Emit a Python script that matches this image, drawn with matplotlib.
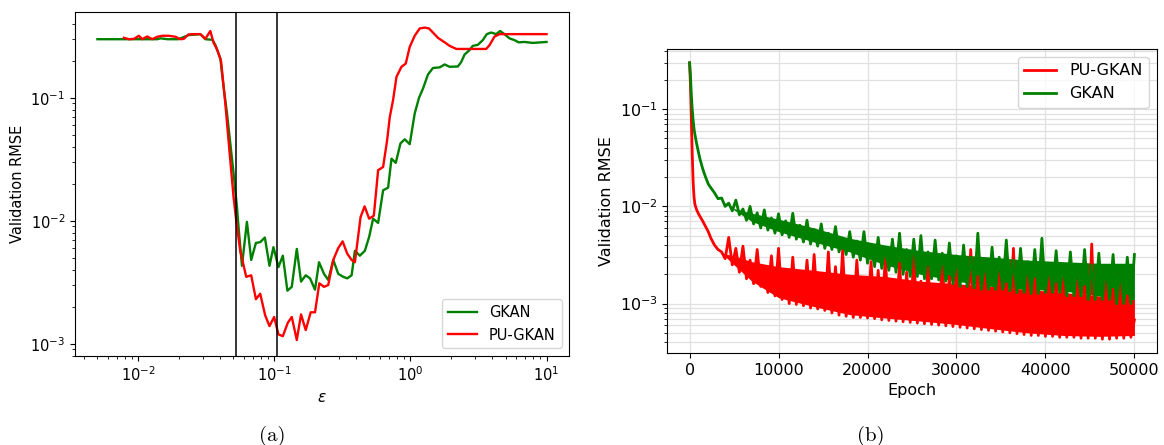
import numpy as np
import matplotlib
matplotlib.use("Agg")
import matplotlib.pyplot as plt

# ---- panel (a): validation RMSE vs epsilon ----
eps_gkan = [0.00501, 0.01377, 0.01457, 0.0164, 0.01814, 0.01973, 0.02336, 0.0286, 0.03112,
            0.03501, 0.03684, 0.04009, 0.04237, 0.04487, 0.04745, 0.05015, 0.0531, 0.05455,
            0.0578, 0.06287, 0.06761, 0.07318, 0.0787, 0.0852, 0.0921, 0.09849, 0.1072,
            0.1154, 0.1247, 0.1343, 0.1462, 0.1571, 0.1701, 0.1829, 0.199, 0.2129, 0.2317,
            0.2489, 0.271, 0.2948, 0.3208, 0.3432, 0.3697, 0.3908, 0.4251, 0.4626, 0.4974,
            0.5321, 0.5789, 0.6298, 0.6854, 0.7259, 0.7805, 0.8446, 0.9081, 0.9883, 1.075,
            1.156, 1.237, 1.346, 1.464, 1.64, 1.784, 1.941, 2.232, 2.363, 2.499, 2.72, 2.874,
            3.127, 3.403, 3.641, 3.921, 4.266, 4.563, 4.907, 5.34, 5.808, 6.246, 6.877,
            7.911, 10.0]
rmse_gkan = [0.300, 0.300, 0.305, 0.300, 0.300, 0.300, 0.324, 0.330, 0.300,
             0.297, 0.270, 0.209, 0.123, 0.075, 0.0427, 0.0244, 0.013, 0.0089,
             0.0043, 0.0098, 0.0048, 0.0066, 0.0067, 0.0073, 0.0043, 0.0061, 0.0042,
             0.0052, 0.0027, 0.0029, 0.0059, 0.0032, 0.0036, 0.0034, 0.00275, 0.0046, 0.0037,
             0.0033, 0.0048, 0.0037, 0.0035, 0.0034, 0.0036, 0.0057, 0.0052, 0.0057, 0.0074,
             0.0104, 0.0096, 0.0177, 0.0186, 0.032, 0.0296, 0.0426, 0.046, 0.042, 0.0746,
             0.100, 0.119, 0.155, 0.175, 0.177, 0.187, 0.179, 0.180, 0.196, 0.225, 0.245, 0.265,
             0.270, 0.295, 0.330, 0.340, 0.330, 0.350, 0.330, 0.305, 0.295, 0.283, 0.285,
             0.280, 0.285]

eps_pu = [0.00784, 0.00853, 0.00929, 0.0101, 0.0107, 0.01164, 0.01266, 0.01377, 0.01499,
          0.01676, 0.01876, 0.0204, 0.02158, 0.02341, 0.02554, 0.0286, 0.03112, 0.03385,
          0.03579, 0.03792, 0.03961, 0.04056, 0.04362, 0.04745, 0.05015, 0.0525, 0.05615,
          0.06213, 0.06761, 0.07318, 0.0787, 0.08562, 0.0921, 0.09966, 0.1072, 0.1154,
          0.1256, 0.1343, 0.1462, 0.1571, 0.1701, 0.185, 0.199, 0.214, 0.2317, 0.2489,
          0.271, 0.2948, 0.3175, 0.3432, 0.3697, 0.3908, 0.4301, 0.4603, 0.4974, 0.5384,
          0.5789, 0.6298, 0.6739, 0.7055, 0.7455, 0.7897, 0.859, 0.9238, 0.9883, 1.075,
          1.17, 1.273, 1.369, 1.464, 1.593, 1.784, 1.941, 2.173, 3.605, 3.809, 4.146,
          4.51, 10.0]
rmse_pu = [0.308, 0.300, 0.302, 0.320, 0.300, 0.316, 0.300, 0.314, 0.320,
           0.320, 0.314, 0.300, 0.302, 0.328, 0.330, 0.330, 0.302, 0.350,
           0.280, 0.248, 0.216, 0.200, 0.090, 0.031, 0.0156, 0.0100, 0.0057,
           0.0035, 0.0036, 0.0023, 0.00255, 0.0017, 0.00139, 0.00165, 0.00119, 0.00115,
           0.00148, 0.00165, 0.00107, 0.00173, 0.00129, 0.0018, 0.0018, 0.0031, 0.0029, 0.0030,
           0.0048, 0.0060, 0.0068, 0.0054, 0.0048, 0.0046, 0.0107, 0.0131, 0.0104, 0.0110,
           0.0258, 0.0274, 0.045, 0.070, 0.096, 0.148, 0.179, 0.190, 0.260, 0.320,
           0.367, 0.373, 0.367, 0.340, 0.308, 0.283, 0.265, 0.250, 0.250, 0.268, 0.315,
           0.330, 0.330]

eps_marks = [0.0525, 0.105]

# ---- panel (b): validation RMSE vs epoch ----
epoch_start = [0, 100, 200, 300, 400, 500, 600, 800, 1000, 1200, 1500, 1800, 2100, 2400]
epoch_rest = list(range(2800, 50001, 400))
epochs = epoch_start + epoch_rest

pu_start = [0.30, 0.18, 0.08, 0.035, 0.018, 0.0125, 0.0105, 0.0092, 0.0084, 0.0078,
            0.0070, 0.0062, 0.0055, 0.0047]
pu_rest = [0.0040, 0.0036, 0.0034, 0.0029, 0.0048, 0.0025, 0.0037, 0.0021, 0.0039, 0.0018,
           0.0028, 0.0016, 0.0036, 0.0015, 0.0024, 0.0013, 0.0031, 0.0012, 0.0037, 0.0011,
           0.0022, 0.0010, 0.0030, 0.00098, 0.0020, 0.00095, 0.0028, 0.00090, 0.0032, 0.00088,
           0.0019, 0.00085, 0.0034, 0.00080, 0.0024, 0.00076, 0.0035, 0.00074, 0.0018, 0.00072,
           0.0028, 0.00072, 0.0017, 0.00071, 0.0027, 0.00070, 0.0022, 0.00068, 0.0030, 0.00067,
           0.0016, 0.00066, 0.0026, 0.00065, 0.0021, 0.00064, 0.0031, 0.00063, 0.0017, 0.00062,
           0.0024, 0.00061, 0.0015, 0.00060, 0.0028, 0.00059, 0.0019, 0.00058, 0.0023, 0.00057,
           0.0014, 0.00056, 0.0036, 0.00055, 0.0019, 0.00054, 0.0024, 0.00053, 0.0013, 0.00052,
           0.0022, 0.00051, 0.0016, 0.00050, 0.0037, 0.00049, 0.0013, 0.00048, 0.0021, 0.00047,
           0.0018, 0.00047, 0.0012, 0.00046, 0.0023, 0.00046, 0.0016, 0.00045, 0.0020, 0.00045,
           0.0012, 0.00045, 0.0019, 0.00044, 0.0015, 0.00044, 0.0041, 0.00044, 0.0011, 0.00043,
           0.0018, 0.00043, 0.0014, 0.00044, 0.0021, 0.00044, 0.0012, 0.00045, 0.00068]

gkan_start = [0.30, 0.22, 0.14, 0.10, 0.077, 0.063, 0.055, 0.044, 0.036, 0.030,
              0.024, 0.020, 0.017, 0.0155]
gkan_rest = [0.0138, 0.0120, 0.0122, 0.0100, 0.0108, 0.0090, 0.0116, 0.0082, 0.0094, 0.0072,
             0.0100, 0.0066, 0.0086, 0.0060, 0.0092, 0.0057, 0.0076, 0.0053, 0.0084, 0.0051,
             0.0071, 0.0048, 0.0085, 0.0046, 0.0064, 0.0043, 0.0072, 0.0041, 0.0058, 0.0039,
             0.0066, 0.0037, 0.0053, 0.0036, 0.0062, 0.0034, 0.0047, 0.0032, 0.0055, 0.0030,
             0.0044, 0.0028, 0.0055, 0.0026, 0.0040, 0.0024, 0.0048, 0.0023, 0.0038, 0.0022,
             0.0046, 0.0021, 0.0053, 0.0020, 0.0036, 0.0019, 0.0046, 0.0019, 0.0050, 0.0018,
             0.0034, 0.0018, 0.0045, 0.00175, 0.0033, 0.0017, 0.0042, 0.0016, 0.0031, 0.0015,
             0.0040, 0.0015, 0.0030, 0.00145, 0.0053, 0.0014, 0.0029, 0.0014, 0.0038, 0.0014,
             0.0030, 0.0014, 0.0045, 0.00135, 0.0028, 0.0013, 0.0037, 0.0013, 0.0027, 0.00127,
             0.0036, 0.00127, 0.0047, 0.0013, 0.0026, 0.0013, 0.0035, 0.0013, 0.0025, 0.0012,
             0.0034, 0.0012, 0.0024, 0.0012, 0.0036, 0.0011, 0.0025, 0.0011, 0.0033, 0.0011,
             0.0024, 0.0011, 0.0032, 0.0010, 0.0023, 0.0010, 0.0030, 0.0010, 0.0032]

pu_rmse = pu_start + pu_rest
gkan_rmse = gkan_start + gkan_rest

# dense part of the noise (bulk of the band)
band_epochs = [3600, 5000, 7000, 10000, 14000, 18000, 22000, 26000, 30000, 34000,
               38000, 42000, 46000, 50000]
pu_band_lo = [0.0033, 0.0025, 0.0017, 0.00115, 0.00093, 0.00077, 0.00071, 0.00066,
              0.00061, 0.00055, 0.00050, 0.00047, 0.00046, 0.00047]
pu_band_hi = [0.0033, 0.0031, 0.0027, 0.0024, 0.0022, 0.0020, 0.0019, 0.0017,
              0.0016, 0.0015, 0.0014, 0.0013, 0.0012, 0.0011]
gkan_band_lo = [0.0115, 0.0092, 0.0070, 0.0055, 0.0043, 0.0034, 0.0025, 0.0020,
                0.0017, 0.0015, 0.0014, 0.00135, 0.0012, 0.0011]
gkan_band_hi = [0.0115, 0.0095, 0.0085, 0.0074, 0.0060, 0.0047, 0.0040, 0.0035,
                0.0032, 0.0030, 0.0028, 0.0027, 0.0026, 0.0026]

fig = plt.figure(figsize=(11.64, 4.45), dpi=100)

# left panel
ax1 = fig.add_axes([0.0644, 0.2007, 0.4244, 0.7724])
ax1.plot(eps_gkan, rmse_gkan, color='green', lw=1.7, label='GKAN')
ax1.plot(eps_pu, rmse_pu, color='red', lw=1.7, label='PU-GKAN')
for e in eps_marks:
    ax1.axvline(e, color='black', lw=1.1)
ax1.set_xscale('log')
ax1.set_yscale('log')
ax1.set_xlabel(r'$\varepsilon$', fontsize=11)
ax1.set_ylabel('Validation RMSE', fontsize=10.5)
ax1.tick_params(labelsize=10.5)
ax1.legend(loc='lower right', fontsize=10.5)

# right panel
ax2 = fig.add_axes([0.5733, 0.2067, 0.4204, 0.6831])
ax2.fill_between(band_epochs, pu_band_lo, pu_band_hi, color='red', lw=0)
ax2.plot(epochs, pu_rmse, color='red', lw=2, label='PU-GKAN')
ax2.fill_between(band_epochs, gkan_band_lo, gkan_band_hi, color='green', lw=0)
ax2.plot(epochs, gkan_rmse, color='green', lw=2, label='GKAN')
ax2.set_yscale('log')
ax2.grid(True, which='major', color='#e0e0e0', lw=0.9)
ax2.grid(True, which='minor', axis='y', color='#e0e0e0', lw=0.9)
ax2.set_axisbelow(True)
ax2.set_xlabel('Epoch', fontsize=11.5)
ax2.set_ylabel('Validation RMSE', fontsize=11.5)
ax2.tick_params(labelsize=11.5)
ax2.legend(loc='upper right', fontsize=11.5)

fig.text(0.234, 0.02, '(a)', fontfamily='cmr10', fontsize=15, ha='center', va='center')
fig.text(0.748, 0.02, '(b)', fontfamily='cmr10', fontsize=15, ha='center', va='center')

fig.savefig('out.png', dpi=100)
